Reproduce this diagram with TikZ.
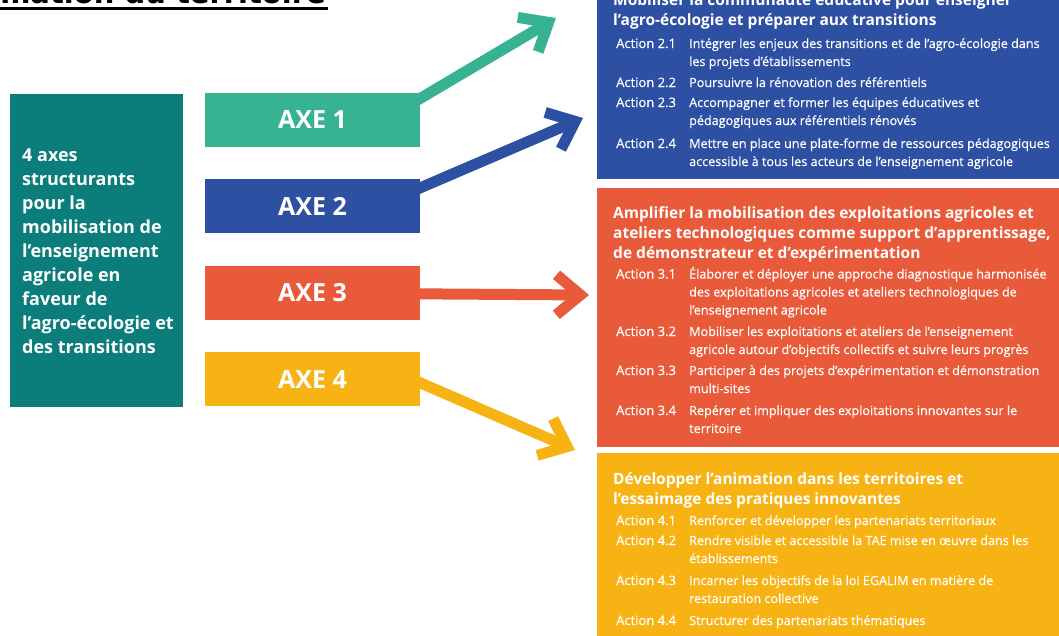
\documentclass[tikz,border=0pt]{standalone}
\usepackage{fontspec}
\setmainfont{Open Sans}
\newfontfamily\semifont[FakeBold=0.5]{Open Sans}
\newfontfamily\headfont{DejaVu Sans}
\usetikzlibrary{arrows.meta, backgrounds, positioning}
\definecolor{axeteal}{HTML}{0B7E7C}
\definecolor{axegreen}{HTML}{37B394}
\definecolor{axeblue}{HTML}{2D50A3}
\definecolor{axeorange}{HTML}{E85A3A}
\definecolor{axeyellow}{HTML}{F6B313}

% lines hung from the first baseline
\newcommand{\toplines}[1]{\begin{tabular}[t]{@{}l@{}}#1\end{tabular}}
% one action line: name, baseline, label, text
\newcommand{\actionrow}[4]{%
    \node[action label] (#1l) at (616,#2) {#3};
    \node[action text] (#1t) at (689,#2) {\toplines{#4}};
}

\begin{document}
\begin{tikzpicture}[
            x=1pt, y=-1pt,
            node distance=32pt,
            intro box/.style={fill=axeteal, anchor=north west, minimum width=173pt, minimum height=313pt, inner sep=0pt},
            intro text/.style={anchor=west, align=left, inner sep=0pt, text=white, font=\fontsize{18}{24}\selectfont\bfseries},
            axe box/.style={fill=#1, minimum width=215pt, minimum height=54pt, inner sep=0pt, text=white, font=\fontsize{25}{25}\selectfont\bfseries},
            axe arrow/.style={draw=#1, line width=11pt, -{Straight Barb[length=24pt, width=40pt]}},
            panel/.style={fill=#1, anchor=north west, minimum width=480pt, inner sep=0pt},
            panel title/.style={anchor=base west, inner sep=0pt, text=white, font=\fontsize{15.5}{20.3}\selectfont\bfseries},
            action label/.style={anchor=base west, inner sep=0pt, text=white, font=\semifont\fontsize{13}{18}\selectfont},
            action text/.style={anchor=base west, inner sep=0pt, text=white, font=\semifont\fontsize{12.6}{18}\selectfont},
        ]
        \useasboundingbox (0,0) rectangle (1059,635);

        % Page title (cut at the top)
        \node[anchor=base east, inner sep=0pt, font=\headfont\bfseries\fontsize{29}{29}\selectfont] (pagetitle) at (326,3) {mation du territoire};
        \draw[line width=2.5pt] (0,8.5) -- (328,8.5);

        % Left block
        \node[intro box] (intro) at (10,94) {};
        \node[intro text] (introtext) at ([xshift=12pt]intro.west) {4 axes\\structurants\\pour la\\mobilisation de\\l’enseignement\\agricole en\\faveur de\\l’agro-écologie et\\des transitions};

        % Axes
        \node[axe box=axegreen] (axe1) at (312.5,120) {AXE 1};
        \node[axe box=axeblue, below=of axe1] (axe2) {AXE 2};
        \node[axe box=axeorange, below=of axe2] (axe3) {AXE 3};
        \node[axe box=axeyellow, below=of axe3] (axe4) {AXE 4};

        % Arrow tips
        \coordinate (tip1) at (556,18);
        \coordinate (tip2) at (583,118);
        \coordinate (tip3) at (589,295);
        \coordinate (tip4) at (575,450);

        \begin{scope}[on background layer]
            \draw[axe arrow=axegreen] ([xshift=-6pt,yshift=18pt]axe1.east) -- (tip1);
            \draw[axe arrow=axeblue] ([xshift=-6pt,yshift=16pt]axe2.east) -- (tip2);
            \draw[axe arrow=axeorange] ([xshift=-6pt,yshift=-1pt]axe3.east) -- (tip3);
            \draw[axe arrow=axeyellow] ([xshift=-6pt,yshift=-1pt]axe4.east) -- (tip4);
        \end{scope}

        % Panels
        \node[panel=axeblue, minimum height=199pt] (panel2) at (597,-20) {};
        \node[panel=axeorange, minimum height=259pt] (panel3) at (597,188) {};
        \node[panel=axeyellow, minimum height=207pt] (panel4) at (597,453) {};

        % Axe 2
        \node[panel title] (title2) at (613,5) {\toplines{Mobiliser la communauté éducative pour enseigner\\l’agro-écologie et préparer aux transitions}};
        \actionrow{a21}{48}{Action 2.1}{Intégrer les enjeux des transitions et de l’agro-écologie dans\\les projets d’établissements}
        \actionrow{a22}{87}{Action 2.2}{Poursuivre la rénovation des référentiels}
        \actionrow{a23}{107}{Action 2.3}{Accompagner et former les équipes éducatives et\\pédagogiques aux référentiels rénovés}
        \actionrow{a24}{148}{Action 2.4}{Mettre en place une plate-forme de ressources pédagogiques\\accessible à tous les acteurs de l’enseignement agricole}

        % Axe 3
        \node[panel title] (title3) at (613,218) {\toplines{Amplifier la mobilisation des exploitations agricoles et\\ateliers technologiques comme support d’apprentissage,\\de démonstrateur et d’expérimentation}};
        \actionrow{a31}{278.5}{Action 3.1}{Élaborer et déployer une approche diagnostique harmonisée\\des exploitations agricoles et ateliers technologiques de\\l’enseignement agricole}
        \actionrow{a32}{336}{Action 3.2}{Mobiliser les exploitations et ateliers de l’enseignement\\agricole autour d’objectifs collectifs et suivre leurs progrès}
        \actionrow{a33}{375}{Action 3.3}{Participer à des projets d’expérimentation et démonstration\\multi-sites}
        \actionrow{a34}{415}{Action 3.4}{Repérer et impliquer des exploitations innovantes sur le\\territoire}

        % Axe 4
        \node[panel title] (title4) at (613,484) {\toplines{Développer l’animation dans les territoires et\\l’essaimage des pratiques innovantes}};
        \actionrow{a41}{525}{Action 4.1}{Renforcer et développer les partenariats territoriaux}
        \actionrow{a42}{545}{Action 4.2}{Rendre visible et accessible la TAE mise en œuvre dans les\\établissements}
        \actionrow{a43}{585}{Action 4.3}{Incarner les objectifs de la loi EGALIM en matière de\\restauration collective}
        \actionrow{a44}{625}{Action 4.4}{Structurer des partenariats thématiques}

\end{tikzpicture}
\end{document}
